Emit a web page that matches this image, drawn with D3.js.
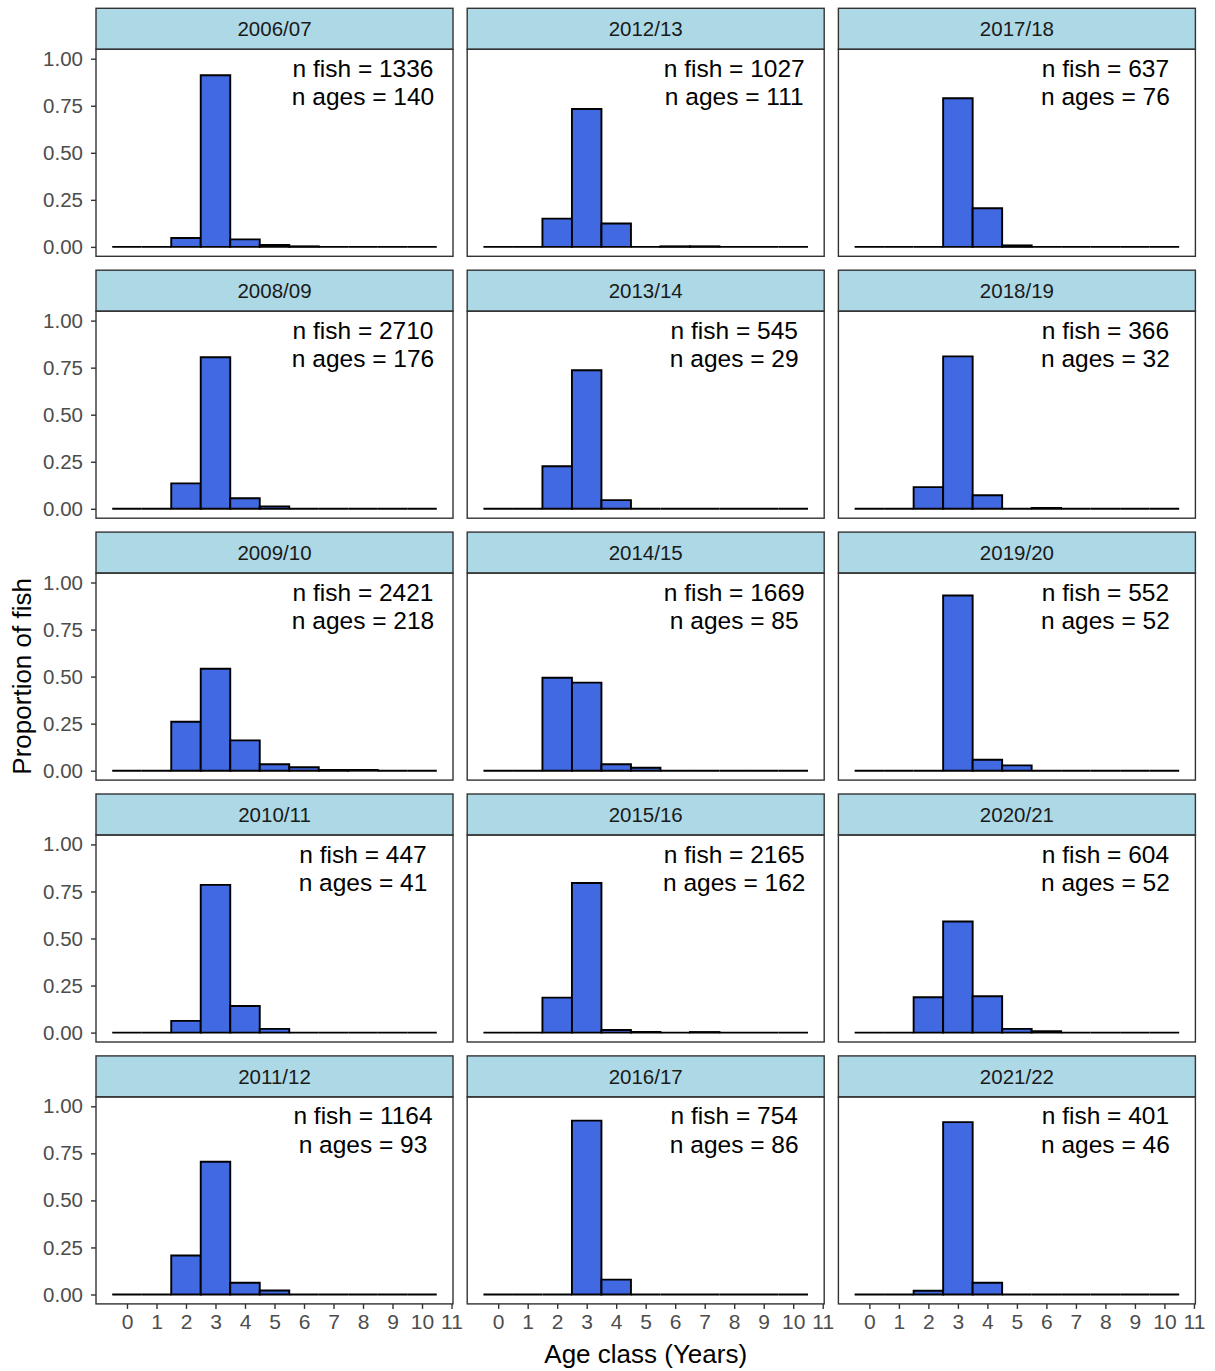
<!DOCTYPE html>
<html>
<head>
<meta charset="utf-8">
<script src="https://cdn.jsdelivr.net/npm/d3@7"></script>
<style>
  body { margin: 0; background: #fff; }
  text { font-family: "Liberation Sans", Arial, sans-serif; }
</style>
</head>
<body>
<div id="chart"></div>
<script>
// facet labels, in column-major order (as ggplot facet_wrap with dir = "v")
const seasons = ['2006/07', '2008/09', '2009/10', '2010/11', '2011/12',
                 '2012/13', '2013/14', '2014/15', '2015/16', '2016/17',
                 '2017/18', '2018/19', '2019/20', '2020/21', '2021/22'];
const nFish = [1336, 2710, 2421, 447, 1164, 1027, 545, 1669, 2165, 754, 637, 366, 552, 604, 401];
const nAges = [140, 176, 218, 41, 93, 111, 29, 85, 162, 86, 76, 32, 52, 52, 46];

const ages = [0, 1, 2, 3, 4, 5, 6, 7, 8, 9, 10];

// proportion of fish at ages 0..10 for each season
const p200607 = [0, 0, 0.047, 0.912, 0.040, 0.010, 0.003, 0, 0, 0, 0];
const p200809 = [0, 0, 0.135, 0.805, 0.056, 0.013, 0, 0, 0, 0, 0];
const p200910 = [0, 0, 0.260, 0.542, 0.161, 0.034, 0.018, 0.004, 0.004, 0, 0];
const p201011 = [0, 0, 0.062, 0.785, 0.141, 0.020, 0, 0, 0, 0, 0];
const p201112 = [0, 0, 0.207, 0.705, 0.062, 0.021, 0, 0, 0, 0, 0];
const p201213 = [0, 0, 0.150, 0.733, 0.124, 0, 0.003, 0.003, 0, 0, 0];
const p201314 = [0, 0, 0.226, 0.736, 0.046, 0, 0, 0, 0, 0, 0];
const p201415 = [0, 0, 0.494, 0.468, 0.034, 0.016, 0, 0, 0, 0, 0];
const p201516 = [0, 0, 0.186, 0.795, 0.014, 0.003, 0, 0.003, 0, 0, 0];
const p201617 = [0, 0, 0, 0.924, 0.079, 0, 0, 0, 0, 0, 0];
const p201718 = [0, 0, 0, 0.790, 0.205, 0.008, 0, 0, 0, 0, 0];
const p201819 = [0, 0, 0.115, 0.810, 0.072, 0, 0.005, 0, 0, 0, 0];
const p201920 = [0, 0, 0, 0.931, 0.058, 0.028, 0, 0, 0, 0, 0];
const p202021 = [0, 0, 0.188, 0.590, 0.193, 0.020, 0.008, 0, 0, 0, 0];
const p202122 = [0, 0, 0.020, 0.916, 0.062, 0, 0, 0, 0, 0, 0];

const proportions = [p200607, p200809, p200910, p201011, p201112,
                     p201213, p201314, p201415, p201516, p201617,
                     p201718, p201819, p201920, p202021, p202122];

const yTicks = [0, 0.25, 0.5, 0.75, 1];
const xTicks = [0, 1, 2, 3, 4, 5, 6, 7, 8, 9, 10, 11];

const width = 1215;
const height = 1371;

const nRows = 5;
const panelLeft = 96;
const colStep = 371.2;
const panelW = 357;
const rowTop = 8.3;
const rowStep = 261.9;
const stripH = 41;
const panelH = 207;

const svg = d3.select('#chart')
  .append('svg')
  .attr('width', width)
  .attr('height', height);

svg.append('rect').attr('width', width).attr('height', height).attr('fill', '#fff');

const x = d3.scaleLinear([-1.05, 11.05], [0, panelW]);
const y = d3.scaleLinear([-0.05, 1.05], [panelH, 0]);

seasons.forEach((season, i) => {
  const col = Math.floor(i / nRows);
  const row = i % nRows;
  const left = panelLeft + col * colStep;
  const top = rowTop + row * rowStep;

  const g = svg.append('g').attr('transform', `translate(${left}, ${top})`);

  // strip
  g.append('rect')
    .attr('width', panelW)
    .attr('height', stripH)
    .attr('fill', '#add8e6')
    .attr('stroke', '#333')
    .attr('stroke-width', 1.4);

  g.append('text')
    .attr('x', panelW / 2)
    .attr('y', stripH / 2 + 7.5)
    .attr('text-anchor', 'middle')
    .attr('font-size', 20.5)
    .attr('fill', '#1a1a1a')
    .text(season);

  const panel = g.append('g').attr('transform', `translate(0, ${stripH})`);

  // bars (paths so zero-height bars still show their outline)
  panel.selectAll('path.bar')
    .data(ages.map((a, k) => ({ age: a, p: proportions[i][k] })))
    .join('path')
    .attr('class', 'bar')
    .attr('d', d => {
      const x0 = x(d.age - 0.5), x1 = x(d.age + 0.5);
      const y0 = y(0), y1 = y(d.p);
      return `M${x0},${y0}V${y1}H${x1}V${y0}Z`;
    })
    .attr('fill', '#4169e1')
    .attr('stroke', '#000')
    .attr('stroke-width', 1.9)
    .attr('stroke-linejoin', 'miter');

  // panel border
  panel.append('rect')
    .attr('width', panelW)
    .attr('height', panelH)
    .attr('fill', 'none')
    .attr('stroke', '#333')
    .attr('stroke-width', 1.4);

  // n fish / n ages label (two separate lines, centred on age 8)
  panel.append('text')
    .attr('x', x(8))
    .attr('y', 27.5)
    .attr('text-anchor', 'middle')
    .attr('font-size', 24.5)
    .attr('fill', '#000')
    .text(`n fish = ${nFish[i]}`);
  panel.append('text')
    .attr('x', x(8))
    .attr('y', 56)
    .attr('text-anchor', 'middle')
    .attr('font-size', 24.5)
    .attr('fill', '#000')
    .text(`n ages = ${nAges[i]}`);

  // y axis on first column
  if (col === 0) {
    const yAxis = panel.append('g')
      .call(d3.axisLeft(y).tickValues(yTicks).tickFormat(d3.format('.2f')).tickSize(5).tickPadding(8));
    yAxis.select('.domain').remove();
    yAxis.selectAll('.tick line').attr('stroke', '#333').attr('stroke-width', 1.4);
    yAxis.selectAll('.tick text')
      .attr('font-size', 20.5)
      .attr('fill', '#4d4d4d')
      .attr('font-family', '"Liberation Sans", Arial, sans-serif');
  }

  // x axis on bottom row
  if (row === nRows - 1) {
    const xAxis = panel.append('g')
      .attr('transform', `translate(0, ${panelH})`)
      .call(d3.axisBottom(x).tickValues(xTicks).tickFormat(d3.format('d')).tickSize(5).tickPadding(5));
    xAxis.select('.domain').remove();
    xAxis.selectAll('.tick line').attr('stroke', '#333').attr('stroke-width', 1.4);
    xAxis.selectAll('.tick text')
      .attr('font-size', 21)
      .attr('fill', '#4d4d4d')
      .attr('font-family', '"Liberation Sans", Arial, sans-serif');
  }
});

// axis titles
svg.append('text')
  .attr('x', panelLeft + colStep + panelW / 2)
  .attr('y', 1363)
  .attr('text-anchor', 'middle')
  .attr('font-size', 26)
  .attr('fill', '#000')
  .text('Age class (Years)');

svg.append('text')
  .attr('transform', `translate(31, ${rowTop + (nRows * rowStep - 13.4) / 2 + 20}) rotate(-90)`)
  .attr('text-anchor', 'middle')
  .attr('font-size', 26)
  .attr('fill', '#000')
  .text('Proportion of fish');
</script>
</body>
</html>
